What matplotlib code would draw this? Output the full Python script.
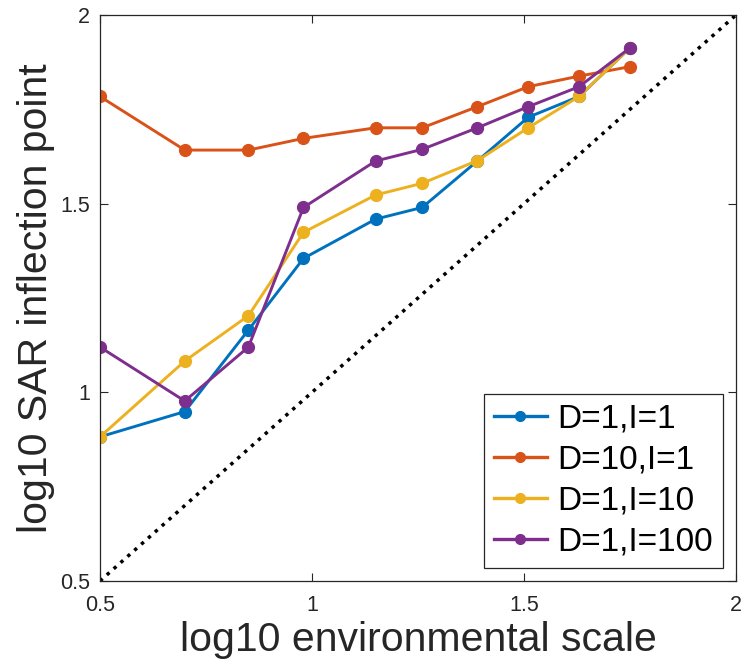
import matplotlib
matplotlib.use('Agg')
import matplotlib.pyplot as plt

plt.rcParams['font.family'] = ['Liberation Sans', 'DejaVu Sans']

# log10 of the environmental scale used in each run
env_scale = [0.50, 0.70, 0.85, 0.98, 1.15, 1.26, 1.39, 1.51, 1.63, 1.75]

# log10 of the SAR inflection point for each parameter set
sar_d1_i1 = [0.882, 0.949, 1.165, 1.355, 1.459, 1.490, 1.613, 1.729, 1.784, 1.913]
sar_d10_i1 = [1.784, 1.642, 1.642, 1.673, 1.701, 1.701, 1.757, 1.810, 1.838, 1.863]
sar_d1_i10 = [0.882, 1.083, 1.203, 1.424, 1.523, 1.554, 1.614, 1.701, 1.784, 1.913]
sar_d1_i100 = [1.120, 0.977, 1.120, 1.490, 1.613, 1.644, 1.701, 1.757, 1.810, 1.913]

series = [
    ('D=1,I=1', sar_d1_i1, '#0072BD'),
    ('D=10,I=1', sar_d10_i1, '#D95319'),
    ('D=1,I=10', sar_d1_i10, '#EDB120'),
    ('D=1,I=100', sar_d1_i100, '#7E2F8E'),
]

ax_col = '#262626'

fig = plt.figure(figsize=(7.46, 6.72), dpi=100)
ax = fig.add_axes([0.134, 0.1354, 0.8526, 0.8423])

for name, vals, col in series:
    ax.plot(env_scale, vals, '-o', color=col, lw=2.1, ms=8.5, label=name)

# 1:1 reference line
ax.plot([0.5, 2], [0.5, 2], ':', color='black', lw=2.5)

ax.set_xlim(0.5, 2)
ax.set_ylim(0.5, 2)
ax.set_xticks([0.5, 1, 1.5, 2])
ax.set_xticklabels(['0.5', '1', '1.5', '2'])
ax.set_yticks([0.5, 1, 1.5, 2])
ax.set_yticklabels(['0.5', '1', '1.5', '2'])
ax.tick_params(direction='in', length=6, width=0.8, colors=ax_col,
               labelsize=15.5, top=True, right=True)
ax.tick_params(axis='x', pad=10)
ax.tick_params(axis='y', pad=7)
for sp in ax.spines.values():
    sp.set_color(ax_col)
    sp.set_linewidth(0.9)

ax.set_xlabel('log10 environmental scale', fontsize=29.5, color=ax_col, labelpad=4)
ax.set_ylabel('log10 SAR inflection point', fontsize=29.5, color=ax_col, labelpad=4)

leg = ax.legend(loc='lower right', fontsize=24, fancybox=False, framealpha=1,
                edgecolor=ax_col, handlelength=1.6, handletextpad=0.3,
                labelspacing=0.3, borderpad=0.3, borderaxespad=0.4)
leg.get_frame().set_linewidth(0.9)
for ln in leg.get_lines():
    ln.set_linewidth(2.4)
    ln.set_markersize(7)

fig.savefig('out.png', dpi=100)
